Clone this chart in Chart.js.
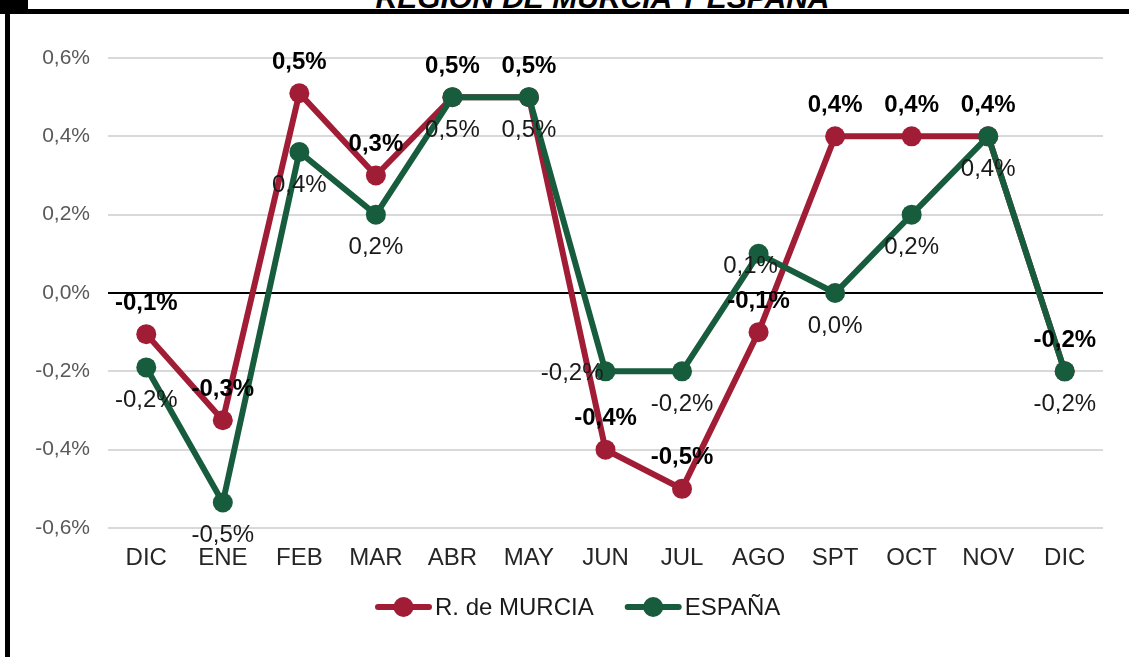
<!DOCTYPE html>
<html>
<head>
<meta charset="utf-8">
<script src="https://cdn.jsdelivr.net/npm/chart.js@4/dist/chart.umd.min.js"></script>
<style>
html,body{margin:0;padding:0;background:#fff;width:1129px;height:657px;overflow:hidden;}
#stage{position:absolute;left:0;top:0;width:1129px;height:657px;overflow:hidden;}
#chart{position:absolute;left:0;top:0;}
.bar{position:absolute;background:#000;}
#title{position:absolute;left:38px;top:-17px;width:1129px;text-align:center;white-space:nowrap;
  font:italic bold 30px/30px "Liberation Sans",Arial,sans-serif;color:#000;}
</style>
</head>
<body>
<div id="stage">
  <div id="title">REGIÓN DE MURCIA Y ESPAÑA</div>
  <canvas id="chart" width="1129" height="657"></canvas>
  <div class="bar" style="left:0;top:0;width:28px;height:14px;"></div>
  <div class="bar" style="left:28px;top:9px;width:1101px;height:5px;"></div>
  <div class="bar" style="left:5px;top:0;width:5px;height:657px;"></div>
</div>
<script>
// ---- data ----
const categories = ['DIC','ENE','FEB','MAR','ABR','MAY','JUN','JUL','AGO','SPT','OCT','NOV','DIC'];
const seriesNames = ['R. de MURCIA','ESPAÑA'];
const murcia = [-0.105, -0.325, 0.51, 0.30, 0.50, 0.50, -0.40, -0.50, -0.10, 0.40, 0.40, 0.40, -0.20];
const espana = [-0.19, -0.535, 0.36, 0.20, 0.50, 0.50, -0.20, -0.20, 0.10, 0.00, 0.20, 0.40, -0.20];
const yTicks = [-0.6, -0.4, -0.2, 0, 0.2, 0.4, 0.6];

// ---- styles ----
const cMurcia = '#A11D36';
const cEspana = '#185C3E';
const FONT = '"Liberation Sans", Arial, sans-serif';

function fmt(v){
  const r = Math.round(v * 10) / 10;
  const s = (Math.abs(r) < 1e-9 ? 0 : r).toFixed(1).replace('.', ',');
  return s + '%';
}

const valueLabels = {
  id: 'valueLabels',
  afterDatasetsDraw(chart){
    const ctx = chart.ctx;
    [1, 0].forEach(di => {
      const ds = chart.data.datasets[di];
      const meta = chart.getDatasetMeta(di);
      const L = ds.valueLabel;
      ctx.save();
      ctx.font = L.font;
      ctx.fillStyle = L.color;
      ctx.textBaseline = 'middle';
      meta.data.forEach((pt, i) => {
        const txt = fmt(ds.data[i]);
        const pos = (L.special && L.special[i]) || L.pos;
        let x = pt.x, y = pt.y;
        ctx.textAlign = 'center';
        if (pos === 'above') { y -= 31; }
        else if (pos === 'below') { y += 33; }
        else if (pos === 'left') { ctx.textAlign = 'right'; x -= 2; y += 2; }
        else if (typeof pos === 'object') { x += pos.dx; y += pos.dy; }
        ctx.fillText(txt, x, y);
      });
      ctx.restore();
    });
  }
};

// legend drawn in the reference style: line + dot marker followed by the series name
const lineLegend = {
  id: 'lineLegend',
  afterDraw(chart, args, o){
    const ctx = chart.ctx;
    ctx.save();
    ctx.font = o.font;
    ctx.textBaseline = 'middle';
    ctx.textAlign = 'left';
    let x = o.x;
    const y = o.y;
    o.items.forEach(it => {
      const ds = chart.data.datasets[it.datasetIndex];
      const col = ds.borderColor;
      ctx.strokeStyle = col; ctx.lineWidth = 6; ctx.lineCap = 'round';
      ctx.beginPath(); ctx.moveTo(x + 3, y); ctx.lineTo(x + o.markerW - 3, y); ctx.stroke();
      ctx.fillStyle = col;
      ctx.beginPath(); ctx.arc(x + o.markerW / 2, y, 10, 0, Math.PI * 2); ctx.fill();
      x += o.markerW + o.textGap;
      ctx.fillStyle = o.color;
      ctx.fillText(ds.label, x, y + 1);
      x += ctx.measureText(ds.label).width + o.itemGap;
    });
    ctx.restore();
  }
};

new Chart(document.getElementById('chart'), {
  type: 'line',
  data: {
    labels: categories,
    datasets: [
      {
        label: seriesNames[1],
        data: espana,
        borderColor: cEspana,
        backgroundColor: cEspana,
        borderWidth: 6,
        pointRadius: 10,
        pointBorderWidth: 0,
        pointBackgroundColor: cEspana,
        tension: 0,
        valueLabel: { font: '24px ' + FONT, color: '#1a1a1a', pos: 'below',
                      special: { 6: 'left', 8: { dx: -8, dy: 13 } } }
      },
      {
        label: seriesNames[0],
        data: murcia,
        borderColor: cMurcia,
        backgroundColor: cMurcia,
        borderWidth: 6,
        pointRadius: 10,
        pointBorderWidth: 0,
        pointBackgroundColor: cMurcia,
        tension: 0,
        valueLabel: { font: 'bold 24px ' + FONT, color: '#000', pos: 'above' }
      }
    ]
  },
  options: {
    responsive: false,
    animation: false,
    events: [],
    layout: { padding: { left: 0, right: 26, top: 58, bottom: 0 } },
    plugins: {
      tooltip: { enabled: false },
      title: { display: false },
      legend: { display: false },
      lineLegend: {
        items: [{ datasetIndex: 1 }, { datasetIndex: 0 }],
        x: 375, y: 607, markerW: 57, textGap: 3, itemGap: 31,
        font: '24px ' + FONT, color: '#1a1a1a'
      }
    },
    scales: {
      x: {
        offset: true,
        grid: { display: false, drawTicks: false },
        border: { display: false },
        ticks: { color: '#262626', font: { family: FONT, size: 24 }, padding: 16, maxRotation: 0, autoSkip: false },
        afterFit: s => { s.height = 129; }
      },
      y: {
        min: -0.6,
        max: 0.6,
        afterBuildTicks: s => { s.ticks = yTicks.map(v => ({ value: v })); },
        grid: {
          drawTicks: false,
          color: c => (Math.abs(c.tick.value) < 1e-9 ? '#000000' : '#d9d9d9'),
          lineWidth: 2
        },
        border: { display: false },
        ticks: { color: '#595959', font: { family: FONT, size: 21 }, padding: 18, callback: v => fmt(v) },
        afterFit: s => { s.width = 108; }
      }
    }
  },
  plugins: [valueLabels, lineLegend]
});
</script>
</body>
</html>
